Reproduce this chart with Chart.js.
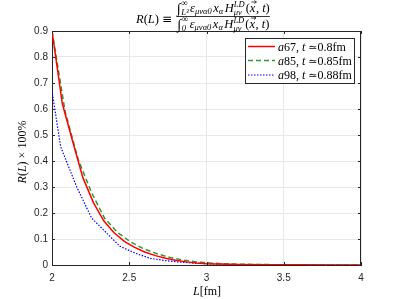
<!DOCTYPE html>
<html>
<head>
<meta charset="utf-8">
<script src="https://cdn.jsdelivr.net/npm/chart.js@4"></script>
<style>
html,body{margin:0;padding:0;background:#fff;}
#wrap{position:relative;width:399px;height:299px;}
</style>
</head>
<body>
<div id="wrap"><canvas id="c" width="399" height="299"></canvas></div>
<script>
// ---- data ----
const xTicks = [2, 2.5, 3, 3.5, 4];
const yTicks = [0, 0.1, 0.2, 0.3, 0.4, 0.5, 0.6, 0.7, 0.8, 0.9];

const seriesNames = ['a67', 'a85', 'a98'];
const seriesTimes = ['0.8', '0.85', '0.88'];

const a67L = [2.0, 2.067, 2.134, 2.2, 2.268, 2.335, 2.4, 2.47, 2.535, 2.6, 2.67, 2.735, 2.8, 2.87, 2.935, 3.0, 3.07, 3.2, 3.4, 3.6, 3.8, 4.0];
const a67R = [0.90, 0.62, 0.475, 0.336, 0.24, 0.17, 0.125, 0.09, 0.068, 0.05, 0.036, 0.026, 0.018, 0.012, 0.008, 0.005, 0.004, 0.002, 0.001, 0.0005, 0.0002, 0.0];

const a85L = [2.0, 2.085, 2.17, 2.255, 2.34, 2.425, 2.51, 2.595, 2.68, 2.765, 2.85, 2.935, 3.02, 3.1, 3.2, 3.4, 3.6, 3.8, 4.0];
const a85R = [0.90, 0.59, 0.405, 0.28, 0.18, 0.125, 0.088, 0.062, 0.043, 0.029, 0.019, 0.012, 0.008, 0.005, 0.003, 0.0015, 0.0007, 0.0003, 0.0];

const a98L = [2.0, 2.056, 2.16, 2.257, 2.35, 2.44, 2.54, 2.634, 2.73, 2.83, 2.93, 3.03, 3.2, 3.5, 3.8, 4.0];
const a98R = [0.67, 0.455, 0.30, 0.18, 0.125, 0.072, 0.045, 0.026, 0.017, 0.011, 0.007, 0.004, 0.002, 0.0005, 0.0002, 0.0];

function pts(L, R){ return L.map((l,i)=>({x:l, y:R[i]})); }

const SERIF = '"Liberation Serif", "DejaVu Serif", serif';
const SANS = 'Helvetica, Arial, "Liberation Sans", sans-serif';
const AXC = '#262626';

// rich text helper
function fontOf(it){ return (it.i ? 'italic ' : '') + (it.s || 11) + 'px ' + (it.f || SERIF); }
function itemWidth(ctx, it){
  if (it.stack){ return Math.max(...it.stack.map(s=>itemWidth(ctx,s))) + (it.pad||0); }
  ctx.font = fontOf(it);
  return ctx.measureText(it.t).width + (it.pad||0);
}
function richWidth(ctx, items){ return items.reduce((a,it)=>a+itemWidth(ctx,it),0); }
function drawRich(ctx, items, x, y, align){
  const w = richWidth(ctx, items);
  let cx = align==='center' ? x - w/2 : (align==='right' ? x - w : x);
  ctx.textBaseline = 'alphabetic';
  ctx.textAlign = 'left';
  for (const it of items){
    const iw = itemWidth(ctx,it);
    if (it.stack){
      for (const s of it.stack){ ctx.font = fontOf(s); ctx.fillText(s.t, cx, y + (s.dy||0)); }
    } else {
      ctx.font = fontOf(it);
      ctx.fillText(it.t, cx, y + (it.dy||0));
      if (it.vec){
        const ax0 = cx + 1.5, ax1 = cx + iw + 0.5, ay = y - 10;
        ctx.save();
        ctx.strokeStyle = ctx.fillStyle; ctx.lineWidth = 0.7;
        ctx.beginPath();
        ctx.moveTo(ax0, ay); ctx.lineTo(ax1, ay);
        ctx.moveTo(ax1 - 2, ay - 1.5); ctx.lineTo(ax1, ay); ctx.lineTo(ax1 - 2, ay + 1.5);
        ctx.stroke();
        ctx.restore();
      }
    }
    cx += iw;
  }
  return w;
}

function integrandItems(lower){
  return [
    {t:'\u222B', s:14, dy:1, pad:0.5},
    {stack:[{t:'\u221E', s:9, dy:-6}, {t:lower, s:8.5, i:true, dy:3}], pad:1.5},
    {t:'\u03B5', s:12.5, i:true},
    {t:'\u03BC\u03BD\u03B10', s:8.5, i:true, dy:2, pad:1.5},
    {t:'x', s:12.5, i:true},
    {t:'\u03B1', s:8.5, i:true, dy:2, pad:1.5},
    {t:'H', s:12.5, i:true},
    {stack:[{t:'LD', s:8.5, i:true, dy:-5}, {t:'\u03BC\u03BD', s:8.5, i:true, dy:3}], pad:1},
    {t:'(', s:12.5},
    {t:'x', s:12.5, i:true, vec:true, pad:0.5},
    {t:', ', s:12.5},
    {t:'t', s:12.5, i:true},
    {t:')', s:12.5}
  ];
}

const overlay = {
  id:'overlay',
  afterDraw(chart){
    const ctx = chart.ctx;
    const ca = chart.chartArea;
    const xs = chart.scales.x, ys = chart.scales.y;
    ctx.save();
    // box: top and right lines
    ctx.strokeStyle = AXC; ctx.lineWidth = 1;
    ctx.beginPath();
    ctx.moveTo(ca.left, ca.top+0.5); ctx.lineTo(ca.right, ca.top+0.5);
    ctx.moveTo(ca.right-0.5, ca.top); ctx.lineTo(ca.right-0.5, ca.bottom);
    ctx.stroke();
    // inward ticks
    ctx.beginPath();
    const tl = 3;
    for (const v of xTicks){
      const px = Math.round(xs.getPixelForValue(v))+0.5;
      ctx.moveTo(px, ca.bottom); ctx.lineTo(px, ca.bottom - tl);
      ctx.moveTo(px, ca.top); ctx.lineTo(px, ca.top + tl);
    }
    for (const v of yTicks){
      const py = Math.round(ys.getPixelForValue(v))+0.5;
      ctx.moveTo(ca.left, py); ctx.lineTo(ca.left + tl, py);
      ctx.moveTo(ca.right, py); ctx.lineTo(ca.right - tl, py);
    }
    ctx.stroke();

    ctx.fillStyle = '#000';
    // title
    const left = [{t:'R', i:true, s:12.5},{t:'(', s:12.5},{t:'L', i:true, s:12.5},{t:')', s:12.5, pad:3},{t:'\u2261', s:12, f:'"DejaVu Serif", serif'}];
    drawRich(ctx, left, 172, 23, 'right');
    const num = integrandItems('L\u00B3');
    const den = integrandItems('0');
    const nw = richWidth(ctx, num);
    const dw = richWidth(ctx, den);
    const fw = Math.max(nw, dw);
    const fx = 177;
    drawRich(ctx, num, fx + fw/2, 12, 'center');
    drawRich(ctx, den, fx + fw/2, 28, 'center');
    ctx.strokeStyle = '#000'; ctx.lineWidth = 0.8;
    ctx.beginPath(); ctx.moveTo(fx, 16.5); ctx.lineTo(fx+fw, 16.5); ctx.stroke();

    // x label
    drawRich(ctx, [{t:'L', i:true, s:12},{t:'[fm]', s:12}], 207, 295, 'center');
    // y label
    ctx.save();
    ctx.translate(26, 152);
    ctx.rotate(-Math.PI/2);
    drawRich(ctx, [{t:'R', i:true, s:12},{t:'(', s:12},{t:'L', i:true, s:12},{t:')', s:12},{t:' \u00D7 100%', s:12}], 0, 0, 'center');
    ctx.restore();

    // legend
    const lx = 245.5, ly = 38.5, lw = 109, lh = 45;
    ctx.fillStyle = '#fff';
    ctx.fillRect(lx, ly, lw, lh);
    ctx.strokeStyle = '#262626'; ctx.lineWidth = 1;
    ctx.strokeRect(lx, ly, lw, lh);
    const rows = [46.5, 60.5, 75];
    chart.data.datasets.forEach((ds, k)=>{
      const y = rows[k];
      ctx.strokeStyle = ds.borderColor;
      ctx.lineWidth = ds.borderWidth;
      ctx.setLineDash(ds.borderDash || []);
      ctx.beginPath(); ctx.moveTo(248, y); ctx.lineTo(275, y); ctx.stroke();
      ctx.setLineDash([]);
      ctx.fillStyle = '#000';
      drawRich(ctx, [
        {t:'a', i:true, s:12},
        {t:seriesNames[k].slice(1) + ',', s:12, pad:3},
        {t:'t', i:true, s:12, pad:3},
        {t:'\u2243', s:11, f:'"DejaVu Serif", serif'},
        {t:seriesTimes[k] + 'fm', s:12}
      ], 278, y + 4, 'left');
    });
    ctx.restore();
  }
};

new Chart(document.getElementById('c'), {
  type: 'line',
  data: {
    datasets: [
      {label:'a67', data: pts(a67L, a67R), borderColor:'#ff0000', borderWidth:1.5, pointRadius:0, tension:0, fill:false},
      {label:'a85', data: pts(a85L, a85R), borderColor:'#2f9a2f', borderWidth:1.5, borderDash:[5,3], pointRadius:0, tension:0, fill:false},
      {label:'a98', data: pts(a98L, a98R), borderColor:'#0000ff', borderWidth:1.2, borderDash:[1.5,1.5], pointRadius:0, tension:0, fill:false}
    ]
  },
  options: {
    responsive: false,
    animation: false,
    devicePixelRatio: 1,
    layout: { padding: { top: 31, right: 38, left: 0, bottom: 0 } },
    plugins: { legend: { display: false }, tooltip: { enabled: false }, title: { display: false } },
    scales: {
      x: {
        type: 'linear', min: 2, max: 4,
        afterBuildTicks(s){ s.ticks = xTicks.map(v=>({value:v})); },
        afterFit(s){ s.height = 34; },
        ticks: { color: AXC, font: { family: SANS, size: 10 }, padding: 7, maxRotation: 0,
                 callback: v => String(v) },
        grid: { color: '#e8e8e8', drawTicks: false, lineWidth: 1 },
        border: { display: true, color: AXC, width: 1 }
      },
      y: {
        type: 'linear', min: 0, max: 0.9,
        afterBuildTicks(s){ s.ticks = yTicks.map(v=>({value:v})); },
        afterFit(s){ s.width = 52; },
        ticks: { color: AXC, font: { family: SANS, size: 10 }, padding: 4,
                 callback: v => v === 0 ? '0' : v.toFixed(1) },
        grid: { color: '#e8e8e8', drawTicks: false, lineWidth: 1 },
        border: { display: true, color: AXC, width: 1 }
      }
    }
  },
  plugins: [overlay]
});
</script>
</body>
</html>
